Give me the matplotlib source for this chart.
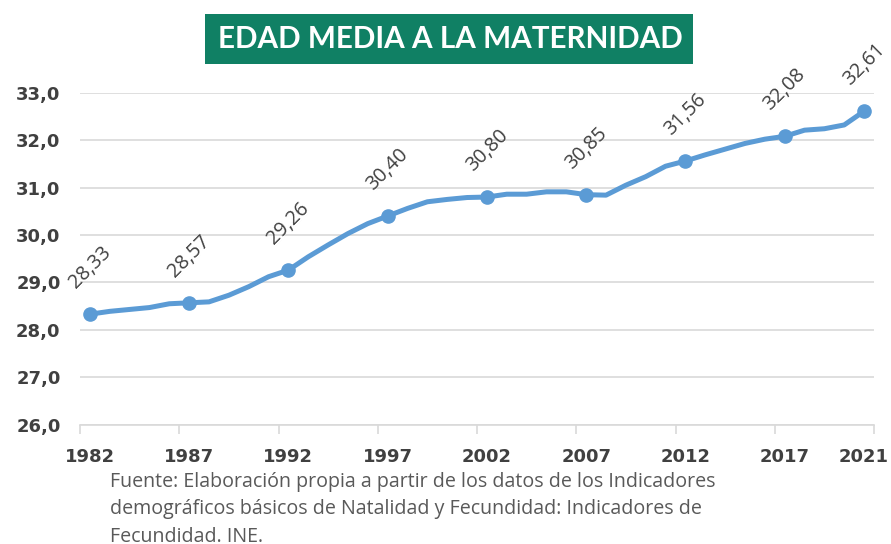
import matplotlib
matplotlib.use("Agg")
import matplotlib.pyplot as plt
from matplotlib.patches import Rectangle

years = list(range(1982, 2022))
edad = [28.33, 28.39, 28.43, 28.47, 28.55, 28.57, 28.59, 28.73, 28.91, 29.12,
        29.26, 29.54, 29.79, 30.03, 30.24, 30.40, 30.56, 30.70, 30.75, 30.79,
        30.80, 30.86, 30.86, 30.91, 30.91, 30.85, 30.84, 31.05, 31.23, 31.45,
        31.56, 31.69, 31.81, 31.93, 32.02, 32.08, 32.21, 32.24, 32.32, 32.61]
label_years = [1982, 1987, 1992, 1997, 2002, 2007, 2012, 2017, 2021]
label_values = ["28,33", "28,57", "29,26", "30,40", "30,80", "30,85", "31,56", "32,08", "32,61"]
y_ticks = [26.0, 27.0, 28.0, 29.0, 30.0, 31.0, 32.0, 33.0]
title = "EDAD MEDIA A LA MATERNIDAD"
source_lines = ["Fuente: Elaboración propia a partir de los datos de los Indicadores",
                "demográficos básicos de Natalidad y Fecundidad: Indicadores de",
                "Fecundidad. INE."]

W, H = 891, 544
fig = plt.figure(figsize=(W / 100, H / 100), dpi=100)
fig.patch.set_facecolor("white")

ax = fig.add_axes([80 / W, 1 - 424.7 / H, (874 - 80) / W, (424.7 - 92.7) / H])
line_color = "#5B9BD5"
grid_color = "#D9D9D9"
text_dark = "#404040"

ax.plot(years, edad, color=line_color, lw=3.6, solid_joinstyle="round",
        solid_capstyle="round", zorder=3, clip_on=False)
mark_vals = [edad[years.index(y)] for y in label_years]
ax.plot(label_years, mark_vals, "o", color=line_color, ms=9.5, zorder=4, clip_on=False)

for yr, v, txt in zip(label_years, mark_vals, label_values):
    ax.annotate(txt, (yr, v), xytext=(0, 33.5), textcoords="offset points",
                rotation=45, rotation_mode="anchor", ha="center", va="center",
                fontsize=14.3, color=text_dark, family="Open Sans", annotation_clip=False)

ax.set_xlim(1981.5, 2021.5)
ax.set_ylim(26, 33)
ax.set_yticks(y_ticks)
ax.set_yticklabels([f"{t:.1f}".replace(".", ",") for t in y_ticks])
ax.set_xticks(label_years)
ax.set_xticklabels([str(y) for y in label_years])
ax.set_xticks([1981.5 + 5 * k for k in range(9)], minor=True)

ax.grid(axis="y", color=grid_color, lw=1.2)
ax.set_axisbelow(True)
for s in ["top", "right", "left"]:
    ax.spines[s].set_visible(False)
ax.spines["bottom"].set_color(grid_color)
ax.spines["bottom"].set_linewidth(1.2)

ax.tick_params(axis="y", length=0, pad=14, labelsize=13, labelcolor=text_dark)
ax.tick_params(axis="x", which="major", length=0, pad=17, labelsize=13, labelcolor=text_dark)
ax.tick_params(axis="x", which="minor", length=6.5, width=1.2, color=grid_color, direction="out")
for lab in ax.get_xticklabels() + ax.get_yticklabels():
    lab.set_fontweight("bold")
    lab.set_family("DejaVu Sans")

# title box
fig.patches.append(Rectangle((205 / W, 1 - 64 / H), (693 - 205) / W, 50 / H,
                             transform=fig.transFigure, facecolor="#108064",
                             edgecolor="none", zorder=1))
fig.text(450 / W, 1 - 39.5 / H, title, ha="center", va="center", color="white",
         fontsize=21.3, fontweight="bold", family="Lato", zorder=2)

for i, ln in enumerate(source_lines):
    fig.text(110 / W, 1 - (486.7 + 27.5 * i) / H, ln, ha="left", va="baseline",
             fontsize=14.1, color="#595959", family="Open Sans")

fig.savefig("out.png", dpi=100, facecolor="white")
